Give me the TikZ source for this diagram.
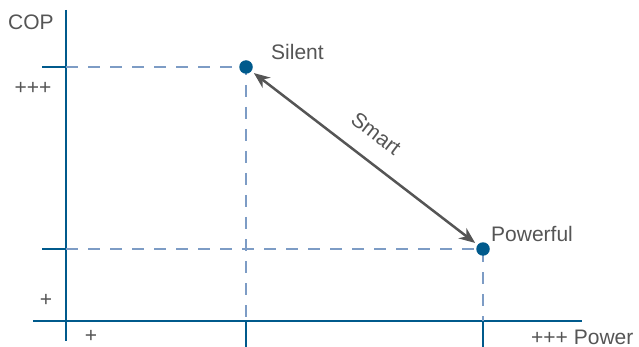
\documentclass[tikz,border=0pt]{standalone}
\usepackage{fontspec}
\setmainfont{Liberation Sans}
\usepackage{tikz}
\usetikzlibrary{arrows.meta}

\definecolor{axisblue}{HTML}{005A8C}
\definecolor{dashblue}{HTML}{7D9CC5}
\definecolor{labelgray}{HTML}{555555}

\tikzset{
	axisline/.style={axisblue, line width=2.8pt},
	guide/.style={dashblue, line width=2.4pt, dash pattern=on 12pt off 10pt},
	dot/.style={circle, fill=axisblue, inner sep=0pt, minimum size=13.5pt},
	lbl/.style={text=labelgray, font=\fontsize{21}{25}\selectfont, inner sep=0pt}
}

\begin{document}
\begin{tikzpicture}[x=1pt, y=-1pt]
		\useasboundingbox (0, 0) rectangle (639, 347);
		% axes and ticks
		\draw [axisline] (66, 10) -- (66, 341);
		\draw [axisline] (33, 321) -- (582, 321);
		\draw [axisline] (42, 67) -- (66, 67);
		\draw [axisline] (42, 249) -- (66, 249);
		\draw [axisline] (246, 321) -- (246, 347);
		\draw [axisline] (483, 321) -- (483, 347);
		\node [lbl] (cop) at (31, 22) {COP};
		\node [lbl] (yhigh) at (33, 88) {+++};
		\node [lbl] (ylow) at (46, 300) {+};
		\node [lbl] (xlow) at (91, 336) {+};
		\node [lbl, anchor=west] (power) at (531, 337) {+++ Power};
		% guides
		\coordinate (ysilent) at (66, 67);
		\coordinate (ypowerful) at (66, 249);
		\coordinate (xsilent) at (246, 321);
		\coordinate (xpowerful) at (483, 321);
		\draw [guide] (ysilent) -- (246, 67) -- (xsilent);
		\draw [guide] (ypowerful) -- (483, 249) -- (xpowerful);
		% points
		\node [dot] (silent) at (246, 67) {};
		\node [dot] (powerful) at (483, 249) {};
		\node [lbl, anchor=west] (silentlbl) at (271, 52) {Silent};
		\node [lbl, anchor=west] (powerfullbl) at (491, 234) {Powerful};
		\draw [{Stealth[length=16pt, width=13pt]}-{Stealth[length=16pt, width=13pt]}, labelgray, line width=2.5pt, shorten <=3pt, shorten >=3pt] (silent) -- (powerful) node [lbl, pos=0.48, sloped, above=18pt] (smart) {Smart};
	\end{tikzpicture}
\end{document}
